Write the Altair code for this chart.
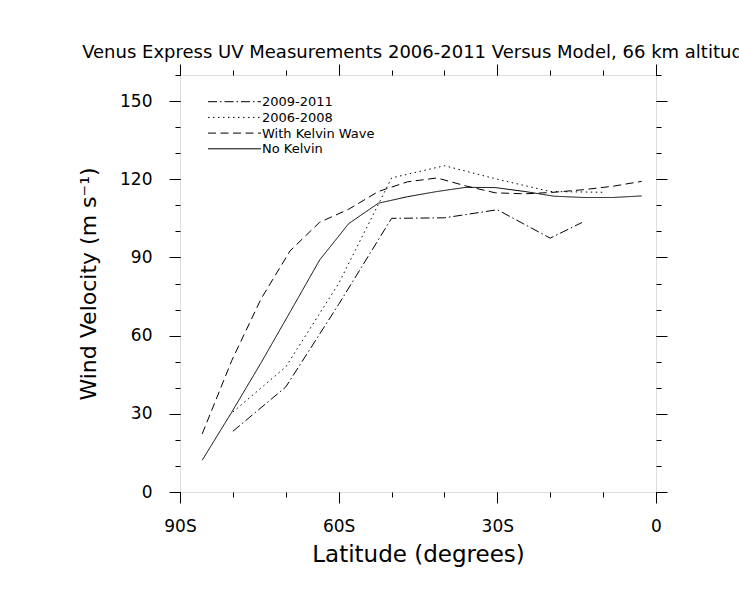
import altair as alt
import pandas as pd

# ---------------- data ----------------
model_lat = [-85.8, -80.2, -74.7, -69.2, -63.6, -58.1, -52.5, -47.0,
             -41.4, -35.9, -30.4, -24.8, -19.3, -13.7, -8.2, -2.7]
no_kelvin = [12.2, 30.7, 49.5, 69.0, 89.0, 103.0, 110.8, 113.3,
             115.3, 116.9, 116.8, 115.3, 113.5, 113.0, 113.0, 113.6]
with_kelvin = [22.3, 50.5, 74.0, 92.5, 103.5, 108.5, 115.3, 119.0,
               120.5, 117.4, 114.8, 114.4, 115.0, 116.0, 117.3, 119.2]

obs_0608_lat = [-80, -70, -60, -50, -40, -30, -20, -10]
obs_0608 = [30.7, 48.0, 80.0, 120.5, 125.2, 120.0, 115.3, 115.0]

obs_0911_lat = [-80, -70, -60, -50, -40, -30, -20, -14]
obs_0911 = [23.3, 40.3, 72.0, 105.0, 105.2, 108.3, 97.4, 103.4]

legend_labels = ["2009-2011", "2006-2008", "With Kelvin Wave", "No Kelvin"]

x_tick_values = [-90, -60, -30, 0]
x_tick_labels = ["90S", "60S", "30S", "0"]
x_minor_values = [-90, -80, -70, -60, -50, -40, -30, -20, -10, 0]
y_tick_values = [0, 30, 60, 90, 120, 150]
y_minor_values = [0, 10, 20, 30, 40, 50, 60, 70, 80, 90, 100, 110, 120, 130, 140, 150, 160]

title_text = "Venus Express UV Measurements 2006-2011 Versus Model, 66 km altitude"
x_title = "Latitude (degrees)"
y_title = "Wind Velocity (m s\u207b\u00b9)"

FONT = "DejaVu Sans"
W, H = 476, 417

# ---------------- tables ----------------
df_nk = pd.DataFrame({"lat": model_lat, "v": no_kelvin})
df_wk = pd.DataFrame({"lat": model_lat, "v": with_kelvin})
df_0608 = pd.DataFrame({"lat": obs_0608_lat, "v": obs_0608})
df_0911 = pd.DataFrame({"lat": obs_0911_lat, "v": obs_0911})
one_row = pd.DataFrame({"k": [0]})

xscale = alt.Scale(domain=[-90, 0], nice=False, zero=False)
yscale = alt.Scale(domain=[0, 160], nice=False, zero=False)

label_expr = " : ".join(
    f"datum.value == {v} ? '{l}'" for v, l in zip(x_tick_values, x_tick_labels)
) + " : ''"

dash_styles = {
    "2009-2011": [9, 3, 1.5, 3],
    "2006-2008": [1.5, 3.5],
    "With Kelvin Wave": [8, 4.5],
    "No Kelvin": [1, 0],
}

def series_line(df, dash):
    return alt.Chart(df).mark_line(color="black", strokeWidth=1, strokeDash=dash).encode(
        x=alt.X("lat:Q", scale=xscale, axis=None),
        y=alt.Y("v:Q", scale=yscale, axis=None),
    )

lines = [
    series_line(df_0911, dash_styles["2009-2011"]),
    series_line(df_0608, dash_styles["2006-2008"]),
    series_line(df_wk, dash_styles["With Kelvin Wave"]),
    series_line(df_nk, dash_styles["No Kelvin"]),
]

common_axis = dict(domain=False, grid=False, tickColor="black", tickWidth=1,
                   labelFont=FONT, titleFont=FONT, labelColor="black",
                   titleColor="black", titleFontWeight="normal")

def axis_layer(xaxis, yaxis):
    return alt.Chart(df_nk).mark_line(opacity=0).encode(
        x=alt.X("lat:Q", scale=xscale, axis=xaxis),
        y=alt.Y("v:Q", scale=yscale, axis=yaxis),
    )

ax_main = axis_layer(
    alt.Axis(orient="bottom", values=x_tick_values, tickSize=11, labelExpr=label_expr,
             labelFontSize=17, labelPadding=28, labelBaseline="alphabetic",
             labelAlign="center", labelFlush=False, labelOverlap=False,
             title=x_title, titleFontSize=23, titleY=69.5, titleBaseline="alphabetic",
             **common_axis),
    alt.Axis(orient="left", values=y_tick_values, tickSize=11, labelFontSize=17,
             labelPadding=17, labelBaseline="middle", labelFlush=False, labelOverlap=False,
             title=y_title, titleFontSize=22, titleX=-85, titleY=208.5,
             titleAngle=270, titleBaseline="alphabetic", titleAlign="center",
             **common_axis),
)
ax_minor = axis_layer(
    alt.Axis(orient="bottom", values=x_minor_values, tickSize=5, labels=False, title="",
             **common_axis),
    alt.Axis(orient="left", values=y_minor_values, tickSize=5, labels=False, title="",
             **common_axis),
)
ax_top_right = axis_layer(
    alt.Axis(orient="top", values=x_tick_values, tickSize=11, labels=False, title="",
             **common_axis),
    alt.Axis(orient="right", values=y_tick_values, tickSize=11, labels=False, title="",
             **common_axis),
)
ax_top_right_minor = axis_layer(
    alt.Axis(orient="top", values=x_minor_values, tickSize=5, labels=False, title="",
             **common_axis),
    alt.Axis(orient="right", values=y_minor_values, tickSize=5, labels=False, title="",
             **common_axis),
)

# ---------------- legend (drawn inside the plot) ----------------
legend_layers = []
for i, lab in enumerate(legend_labels):
    yy = 26.7 + 15.7 * i
    legend_layers.append(
        alt.Chart(one_row).mark_rule(color="black", strokeWidth=1,
                                     strokeDash=dash_styles[lab]).encode(
            x=alt.value(28), x2=alt.value(81), y=alt.value(yy))
    )
    legend_layers.append(
        alt.Chart(one_row).mark_text(align="left", baseline="middle", font=FONT,
                                     fontSize=13, color="black").encode(
            x=alt.value(82), y=alt.value(yy + 0.5), text=alt.value(lab))
    )

title_layer = alt.Chart(one_row).mark_text(
    align="center", baseline="alphabetic", font=FONT, fontSize=18, color="black"
).encode(x=alt.value(W / 2), y=alt.value(-17.5), text=alt.value(title_text))

chart = alt.layer(
    ax_main, ax_minor, ax_top_right, ax_top_right_minor,
    *lines, *legend_layers, title_layer
).resolve_axis(
    x="independent", y="independent"
).properties(
    width=W, height=H,
    autosize=alt.AutoSizeParams(type="none"),
    padding={"left": 180, "top": 75, "right": 739 - 180 - W, "bottom": 595 - 75 - H},
).configure_view(
    stroke="black", strokeWidth=1.5
).configure(
    background="white"
)

chart.save("out.html", embed_options={"renderer": "svg", "actions": False})
